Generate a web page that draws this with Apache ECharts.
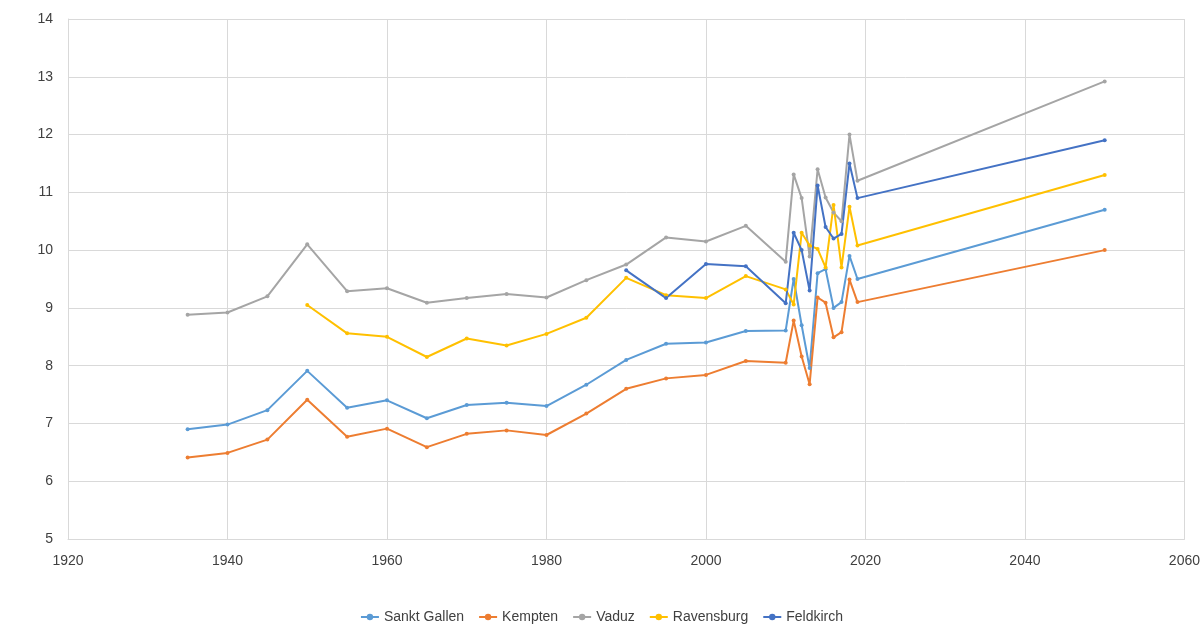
<!DOCTYPE html>
<html><head><meta charset="utf-8">
<script src="https://cdn.jsdelivr.net/npm/echarts@6/dist/echarts.min.js"></script>
<style>html,body{margin:0;padding:0;background:#fff}#c{width:1203px;height:625px}</style>
</head><body><div id="c"></div>
<script>
const years = [1935,1940,1945,1950,1955,1960,1965,1970,1975,1980,1985,1990,1995,2000,2005,2010,2011,2012,2013,2014,2015,2016,2017,2018,2019,2050];
const sanktGallen = [6.9,6.98,7.23,7.91,7.27,7.4,7.09,7.32,7.36,7.3,7.67,8.1,8.38,8.4,8.6,8.61,9.5,8.7,7.96,9.6,9.67,9.0,9.1,9.9,9.5,10.7];
const kempten = [6.41,6.49,6.72,7.41,6.77,6.91,6.59,6.82,6.88,6.8,7.17,7.6,7.78,7.84,8.08,8.05,8.78,8.16,7.68,9.18,9.09,8.49,8.58,9.49,9.1,10.0];
const vaduz = [8.88,8.92,9.2,10.1,9.29,9.34,9.09,9.17,9.24,9.18,9.48,9.75,10.22,10.15,10.42,9.8,11.31,10.9,9.89,11.4,10.91,10.65,10.5,12.0,11.2,12.92];
const ravensburg = [null,null,null,9.05,8.56,8.5,8.15,8.47,8.35,8.55,8.83,9.52,9.22,9.17,9.55,9.32,9.06,10.3,10.08,10.02,9.7,10.78,9.7,10.75,10.08,11.3];
const feldkirch = [null,null,null,null,null,null,null,null,null,null,null,9.65,9.17,9.76,9.72,9.08,10.3,10.0,9.3,11.12,10.4,10.2,10.28,11.5,10.9,11.9];

const names = ['Sankt Gallen','Kempten','Vaduz','Ravensburg','Feldkirch'];
const colors = ['#5B9BD5','#ED7D31','#A5A5A5','#FFC000','#4472C4'];
const data = [sanktGallen,kempten,vaduz,ravensburg,feldkirch];

const chart = echarts.init(document.getElementById('c'));
chart.setOption({
  animation:false,
  color: colors,
  legend:{
    bottom:-4, left:'center', itemGap:14, itemWidth:18, itemHeight:8,
    textStyle:{fontFamily:'Liberation Sans, Arial', fontSize:14, color:'#404040'},
    data: names
  },
  grid:{left:68,right:8,top:19,bottom:86},
  xAxis:{type:'value',min:1920,max:2060,interval:20,
    axisLine:{show:true,lineStyle:{color:'#d9d9d9'}},
    axisTick:{show:false},
    splitLine:{show:true,lineStyle:{color:'#d9d9d9'}},
    axisLabel:{fontFamily:'Liberation Sans, Arial',fontSize:14,color:'#404040',margin:15,formatter:v=>String(v)}},
  yAxis:{type:'value',min:5,max:14,interval:1,
    axisLine:{show:true,lineStyle:{color:'#d9d9d9'}},
    axisTick:{show:false},
    splitLine:{show:true,lineStyle:{color:'#d9d9d9'}},
    axisLabel:{fontFamily:'Liberation Sans, Arial',fontSize:14,color:'#404040',margin:15}},
  series: names.map((n,i)=>({
    name:n, type:'line',
    data: years.map((y,j)=>[y,data[i][j]]).filter(p=>p[1]!==null),
    symbol:'circle', symbolSize:4,
    lineStyle:{width:2,color:colors[i]},
    itemStyle:{color:colors[i]}
  }))
});
</script></body></html>
